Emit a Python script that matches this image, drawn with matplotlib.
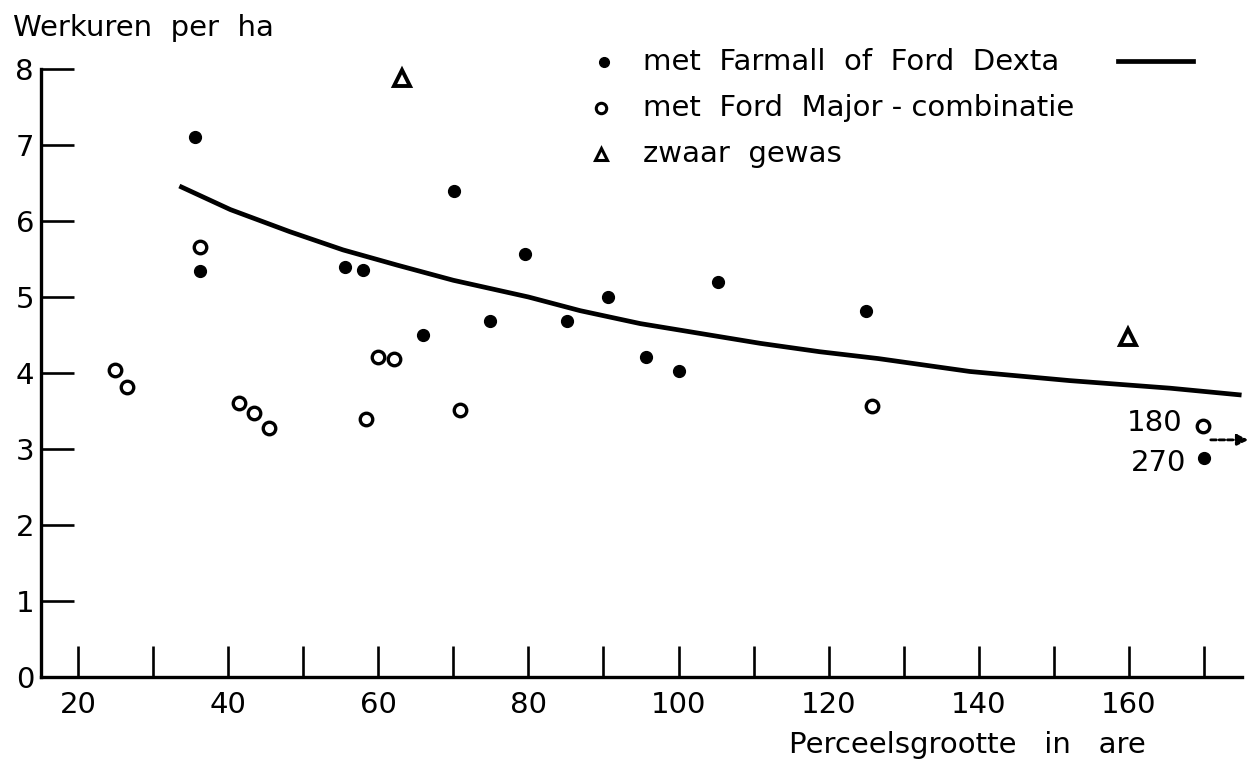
import matplotlib
matplotlib.use("Agg")
from matplotlib import pyplot as plt

# Farmall / Ford Dexta (filled dots)
dexta_x = [35.6, 36.3, 55.6, 58.0, 66.0, 70.1, 74.9, 79.5, 85.2, 90.6, 95.6, 100.0, 105.3, 125.0, 170.0]
dexta_y = [7.11, 5.34, 5.39, 5.35, 4.50, 6.39, 4.68, 5.56, 4.68, 5.00, 4.21, 4.03, 5.20, 4.82, 2.88]

# Ford Major-combinatie (open circles)
major_x = [24.9, 26.5, 36.3, 41.5, 43.4, 45.4, 58.3, 59.9, 62.1, 70.9, 125.8, 169.9]
major_y = [4.04, 3.82, 5.66, 3.61, 3.47, 3.27, 3.40, 4.21, 4.19, 3.51, 3.56, 3.30]

# zwaar gewas (triangles)
heavy_x = [63.1, 159.9]
heavy_y = [7.88, 4.48]

# curve for Farmall / Dexta
curve_x = [33.5, 40.3, 48.2, 55.3, 62.5, 70.0, 80.0, 86.9, 94.9, 102.9,
           110.9, 118.8, 126.6, 138.8, 152.1, 165.5, 175.0]
curve_y = [6.46, 6.15, 5.86, 5.62, 5.42, 5.22, 5.00, 4.82, 4.65, 4.52,
           4.39, 4.28, 4.19, 4.02, 3.90, 3.80, 3.71]

x_ticks = list(range(20, 171, 10))
x_labels = [str(t) if t % 20 == 0 and t <= 160 else "" for t in x_ticks]
y_ticks = list(range(0, 9))

legend_labels = ["met  Farmall  of  Ford  Dexta",
                 "met  Ford  Major - combinatie",
                 "zwaar  gewas"]

plt.rcParams["font.family"] = ["DejaVu Sans"]

fig = plt.figure(figsize=(12.47, 7.6), dpi=100)
W, H = 1247.0, 760.0
ax = fig.add_axes([41 / W, 1 - 677 / H, (1242 - 41) / W, (677 - 69) / H])

ax.plot(curve_x, curve_y, color="black", lw=3.4, solid_capstyle="butt", solid_joinstyle="round")
ax.plot(dexta_x, dexta_y, "o", color="black", ms=8.5, clip_on=False)
ax.plot(major_x, major_y, "o", mfc="white", mec="black", mew=2.4, ms=9, clip_on=False)
ax.plot(heavy_x, heavy_y, "^", mfc="white", mec="black", mew=2.8, ms=11, clip_on=False)

ax.set_xlim(15.07, 175.06)
ax.set_ylim(0, 8)

for side in ["top", "right"]:
    ax.spines[side].set_visible(False)
for side in ["left", "bottom"]:
    ax.spines[side].set_linewidth(2.4)

ax.set_xticks(x_ticks)
ax.set_xticklabels(x_labels)
ax.set_yticks(y_ticks)
ax.tick_params(axis="x", direction="in", length=22, width=1.9, labelsize=21, pad=10)
ax.tick_params(axis="y", direction="in", length=24, width=1.9, labelsize=21, pad=5)

# axis titles
fig.text(13 / W, 1 - 28 / H, "Werkuren  per  ha", fontsize=21, va="center", ha="left")
fig.text(1146 / W, 1 - 745 / H, "Perceelsgrootte   in   are", fontsize=21, va="center", ha="right")

# legend drawn by hand
leg_y = [62, 108, 154]
fig.lines.append(plt.Line2D([604 / W], [1 - leg_y[0] / H], marker="o", color="black",
                            ms=7, transform=fig.transFigure))
fig.lines.append(plt.Line2D([601 / W], [1 - leg_y[1] / H], marker="o", mfc="white",
                            mec="black", mew=2.2, ms=7.5, transform=fig.transFigure))
fig.lines.append(plt.Line2D([601 / W], [1 - leg_y[2] / H], marker="^", mfc="white",
                            mec="black", mew=2.2, ms=8, transform=fig.transFigure))
fig.lines.append(plt.Line2D([1118 / W, 1193 / W], [1 - 61 / H, 1 - 61 / H], color="black",
                            lw=3.4, transform=fig.transFigure))
for yy, label in zip(leg_y, legend_labels):
    fig.text(643 / W, 1 - yy / H, label, fontsize=21, va="center", ha="left")

# off-scale values
fig.text(1182 / W, 1 - 423 / H, "180", fontsize=21, va="center", ha="right")
fig.text(1186 / W, 1 - 463 / H, "270", fontsize=21, va="center", ha="right")
ax.annotate("", xy=(175.9, 3.12), xytext=(170.9, 3.12), annotation_clip=False,
            arrowprops=dict(arrowstyle="-|>", color="black", lw=2.0, ls=(0, (2, 1)),
                            mutation_scale=16, shrinkA=0, shrinkB=0))

fig.savefig("out.png", dpi=100, facecolor="white")
plt.close()
